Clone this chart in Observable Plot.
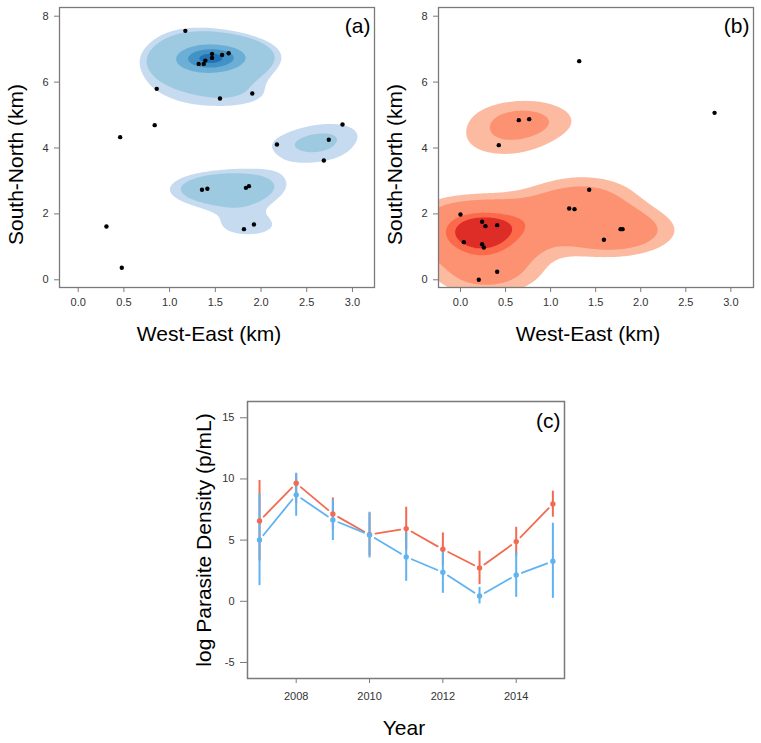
<!DOCTYPE html>
<html><head><meta charset="utf-8">
<script src="https://cdn.jsdelivr.net/npm/d3@7"></script>
<script src="https://cdn.jsdelivr.net/npm/@observablehq/plot@0.6"></script>
<style>
body{margin:0;background:#fff;}
#wrap{position:relative;width:761px;height:743px;font-family:"Liberation Sans",Arial,Helvetica,sans-serif;}
.panel{position:absolute;}
</style></head><body><div id="wrap"></div>
<script>
// Panel (a) locations (km)
const aX = [1.172, 0.859, 0.837, 0.459, 0.309, 0.477, 1.551, 1.904, 1.318, 1.373, 1.391, 1.464, 1.464, 1.574, 1.646, 2.174, 2.687, 2.741, 2.891, 1.354, 1.413, 1.835, 1.868, 1.813, 1.922];
const aY = [7.555, 5.795, 4.693, 4.329, 1.618, 0.364, 5.502, 5.654, 6.553, 6.553, 6.653, 6.857, 6.735, 6.826, 6.875, 4.106, 3.621, 4.248, 4.713, 2.731, 2.761, 2.791, 2.842, 1.537, 1.679];
// Panel (b) locations (km)
const bX = [1.317, 2.819, 0.647, 0.762, 0.425, 1.428, 1.206, 1.265, 1.776, 1.798, 1.591, 0.000, 0.240, 0.277, 0.407, 0.037, 0.240, 0.259, 0.407, 0.203];
const bY = [6.635, 5.067, 4.845, 4.875, 4.086, 2.731, 2.164, 2.144, 1.537, 1.537, 1.214, 1.982, 1.760, 1.628, 1.659, 1.143, 1.082, 0.981, 0.243, 0.000];
// density settings
const bwA = [0.45, 0.45];
const levelsA = [1.76, 2.25, 4.9, 5.9, 6.55];
const colorsA = ["#c6dbef", "#9ecae1", "#6baed6", "#4292c6", "#2171b5"];
const bwB = [0.45, 0.50];
const levelsB = [1.08, 1.8, 3.8, 4.45];
const colorsB = ["#fcbba1", "#fc9272", "#fb6a4a", "#de2d26"];
const kmTicksX = [0, 0.5, 1, 1.5, 2, 2.5, 3];
const kmTicksY = [0, 2, 4, 6, 8];

// Panel (c)
const years = [2007, 2008, 2009, 2010, 2011, 2012, 2013, 2014, 2015];
const redMean = [6.57, 9.65, 7.14, 5.45, 5.94, 4.25, 2.72, 4.88, 7.96];
const redLo   = [3.3, 8.0, 5.8, 3.7, 4.2, 2.9, 1.36, 3.7, 6.87];
const redHi   = [9.87, 10.4, 8.45, 7.2, 7.69, 5.59, 4.09, 6.05, 9.0];
const blueMean = [5.02, 8.7, 6.65, 5.42, 3.63, 2.37, 0.43, 2.15, 3.27];
const blueLo   = [1.28, 6.95, 4.96, 3.54, 1.63, 0.65, -0.22, 0.32, 0.24];
const blueHi   = [8.78, 10.47, 8.29, 7.28, 5.6, 4.2, 1.14, 4.0, 6.38];
const yearTicks = [2008, 2010, 2012, 2014];
const densTicks = [-5, 0, 5, 10, 15];
const redColor = "#f26b50";
const blueColor = "#5fb3f1";

const FONT = '"Liberation Sans",Arial,Helvetica,sans-serif';
const FRAME = "#7a7a7a";
const wrap = document.getElementById("wrap");

function kde(xs, ys, bw) {
  const [sx, sy] = bw;
  return (x, y) => {
    let s = 0;
    for (let i = 0; i < xs.length; i++) {
      const dx = (x - xs[i]) / sx, dy = (y - ys[i]) / sy;
      s += Math.exp(-0.5 * (dx * dx + dy * dy));
    }
    return s;
  };
}

function place(node, left, top) {
  const d = document.createElement("div");
  d.className = "panel";
  d.style.left = left + "px";
  d.style.top = top + "px";
  d.appendChild(node);
  wrap.appendChild(d);
}

function densityPanel(o) {
  const f = kde(o.xs, o.ys, o.bw);
  const pts = o.xs.map((x, i) => ({x, y: o.ys[i]}));
  const yDomain = [-0.234, 8.264];
  return Plot.plot({
    width: o.width, height: 345,
    marginLeft: o.marginLeft, marginRight: o.marginRight, marginTop: 7, marginBottom: 58,
    style: {fontFamily: FONT, fontSize: "11px", color: "#333", background: "transparent", overflow: "visible"},
    x: {domain: o.xDomain},
    y: {domain: yDomain},
    color: {type: "ordinal", domain: o.levels, range: o.colors},
    marks: [
      Plot.contour({fill: f, x1: o.xDomain[0], x2: o.xDomain[1], y1: yDomain[0], y2: yDomain[1], thresholds: o.levels, stroke: "none"}),
      Plot.dot(pts, {x: "x", y: "y", r: 2.2, fill: "black"}),
      Plot.frame({stroke: FRAME, strokeWidth: 1.3}),
      Plot.axisX({ticks: kmTicksX, tickFormat: d3.format(".1f"), tickSize: 5, tickPadding: 6, stroke: FRAME, fill: "#333", label: null}),
      Plot.axisY({ticks: kmTicksY, tickSize: 5, tickPadding: 6, stroke: FRAME, fill: "#333", label: null}),
      Plot.text([o.label], {text: d => d, frameAnchor: "top-right", dx: -4, dy: 19, fontSize: 21, textAnchor: "end", lineAnchor: "middle", fill: "black"}),
      Plot.text(["West-East (km)"], {text: d => d, frameAnchor: "bottom", dx: -8, dy: 47, fontSize: 21, textAnchor: "middle", lineAnchor: "middle", fill: "black"}),
      Plot.text(["South-North (km)"], {text: d => d, frameAnchor: "left", dx: -43, dy: 17, rotate: -90, fontSize: 21, textAnchor: "middle", lineAnchor: "middle", fill: "black"})
    ]
  });
}

place(densityPanel({xs: aX, ys: aY, bw: bwA, levels: levelsA, colors: colorsA, xDomain: [-0.2045, 3.241], width: 380, marginLeft: 59, marginRight: 6, label: "(a)"}), 0, 0);
place(densityPanel({xs: bX, ys: bY, bw: bwB, levels: levelsB, colors: colorsB, xDomain: [-0.244, 3.251], width: 381, marginLeft: 58, marginRight: 8, label: "(b)"}), 380, 0);

// Panel (c)
function series(mean, lo, hi) {
  return years.map((yr, i) => ({year: yr, mean: mean[i], lo: lo[i], hi: hi[i]}));
}
function segs(rows) {
  return rows.slice(1).map((r, i) => ({x1: rows[i].year, y1: rows[i].mean, x2: r.year, y2: r.mean}));
}
const red = series(redMean, redLo, redHi);
const blue = series(blueMean, blueLo, blueHi);

const plotC = Plot.plot({
  width: 400, height: 383,
  marginLeft: 67, marginRight: 16, marginTop: 41, marginBottom: 65,
  style: {fontFamily: FONT, fontSize: "11px", color: "#333", background: "transparent", overflow: "visible"},
  x: {domain: [2006.672, 2015.317]},
  y: {domain: [-6.31, 16.33]},
  marks: [
    Plot.ruleX(red, {x: "year", y1: "lo", y2: "hi", stroke: redColor, strokeWidth: 2}),
    Plot.ruleX(blue, {x: "year", y1: "lo", y2: "hi", stroke: blueColor, strokeWidth: 2}),
    Plot.arrow(segs(red), {x1: "x1", y1: "y1", x2: "x2", y2: "y2", stroke: redColor, strokeWidth: 1.8, headLength: 0, insetStart: 6, insetEnd: 6}),
    Plot.arrow(segs(blue), {x1: "x1", y1: "y1", x2: "x2", y2: "y2", stroke: blueColor, strokeWidth: 1.8, headLength: 0, insetStart: 6, insetEnd: 6}),
    Plot.dot(red, {x: "year", y: "mean", r: 2.7, fill: redColor}),
    Plot.dot(blue, {x: "year", y: "mean", r: 2.7, fill: blueColor}),
    Plot.frame({stroke: FRAME, strokeWidth: 1.5}),
    Plot.axisX({ticks: yearTicks, tickFormat: d => String(d), tickSize: 5, tickPadding: 9, stroke: FRAME, fill: "#333", label: null}),
    Plot.axisY({ticks: densTicks, tickFormat: d => String(d), tickSize: 7, tickPadding: 6, stroke: FRAME, fill: "#333", label: null}),
    Plot.text(["(c)"], {text: d => d, frameAnchor: "top-right", dx: -4, dy: 20, fontSize: 21, textAnchor: "end", lineAnchor: "middle", fill: "black"}),
    Plot.text(["Year"], {text: d => d, frameAnchor: "bottom", dx: -2, dy: 50, fontSize: 21, textAnchor: "middle", lineAnchor: "middle", fill: "black"}),
    Plot.text(["log Parasite Density (p/mL)"], {text: d => d, frameAnchor: "left", dx: -43.5, dy: 0, rotate: -90, fontSize: 21, textAnchor: "middle", lineAnchor: "middle", fill: "black"})
  ]
});
place(plotC, 180, 360);
</script></body></html>
